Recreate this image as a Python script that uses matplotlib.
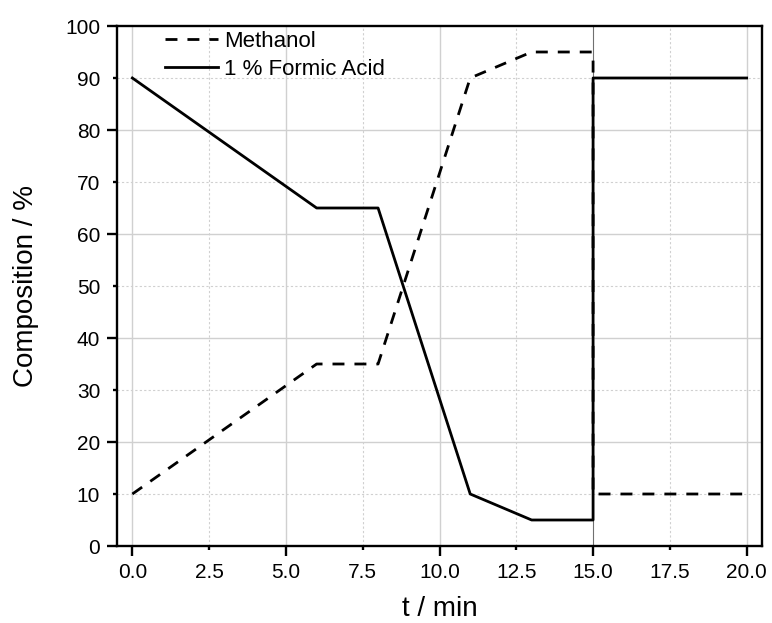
import matplotlib
matplotlib.use('Agg')
import matplotlib.pyplot as plt
from matplotlib.ticker import MultipleLocator

plt.rcParams['font.family'] = ['Liberation Sans', 'DejaVu Sans']

# gradient program (time in min, composition in %)
t_methanol = [0, 6, 8, 11, 13, 15, 15, 20]
methanol = [10, 35, 35, 90, 95, 95, 10, 10]
t_formic = [0, 6, 8, 11, 13, 15, 15, 20]
formic = [90, 65, 65, 10, 5, 5, 90, 90]

fig = plt.figure(figsize=(7.72, 6.23), dpi=100)
ax = fig.add_axes([117 / 772, 1 - 546 / 623, (762 - 117) / 772, (546 - 26) / 623])

ax.plot(t_methanol, methanol, color='black', lw=2.0, ls=(0, (4.3, 3.6)), label='Methanol')
ax.plot(t_formic, formic, color='black', lw=2.0, label='1 % Formic Acid')

ax.set_xlim(-0.5, 20.5)
ax.set_ylim(0, 100)
# long ticks every 5 min / 20 %, short ones in between, all labelled
ax.xaxis.set_major_locator(MultipleLocator(5))
ax.xaxis.set_minor_locator(MultipleLocator(2.5))
ax.yaxis.set_major_locator(MultipleLocator(20))
ax.yaxis.set_minor_locator(MultipleLocator(10))
ax.xaxis.set_major_formatter(lambda v, p: f'{v:.1f}')
ax.xaxis.set_minor_formatter(lambda v, p: f'{v:.1f}' if v % 5 else '')
ax.yaxis.set_major_formatter(lambda v, p: f'{v:.0f}')
ax.yaxis.set_minor_formatter(lambda v, p: f'{v:.0f}' if v % 20 else '')

# solid grid on long ticks, dotted on short ones
for x in [0, 5, 10, 20]:
    ax.axvline(x, color='#d0d0d0', lw=1.0, zorder=0)
ax.axvline(15, color='#707070', lw=0.8, zorder=0)
for x in [2.5, 7.5, 12.5, 17.5]:
    ax.axvline(x, color='#d0d0d0', lw=0.8, ls=(0, (2, 2)), zorder=0)
for y in [20, 40, 60, 80]:
    ax.axhline(y, color='#d0d0d0', lw=1.0, zorder=0)
for y in [10, 30, 50, 70, 90]:
    ax.axhline(y, color='#d0d0d0', lw=0.8, ls=(0, (2, 2)), zorder=0)

ax.tick_params(which='both', direction='out', width=1.7, labelsize=15,
               top=False, right=False)
ax.tick_params(which='major', length=7.2, pad=4.8)
ax.tick_params(which='minor', length=3, pad=9.1)
for s in ax.spines.values():
    s.set_linewidth(1.7)

ax.set_xlabel('t / min', fontsize=20, labelpad=10)
ax.set_ylabel('Composition / %', fontsize=20, labelpad=19)

leg = ax.legend(loc='upper left', bbox_to_anchor=(0.0744, 0.990), frameon=False,
                fontsize=16, handlelength=2.4, handletextpad=0.27,
                labelspacing=0.3, borderpad=0, borderaxespad=0)

fig.savefig('out.png', dpi=100)
